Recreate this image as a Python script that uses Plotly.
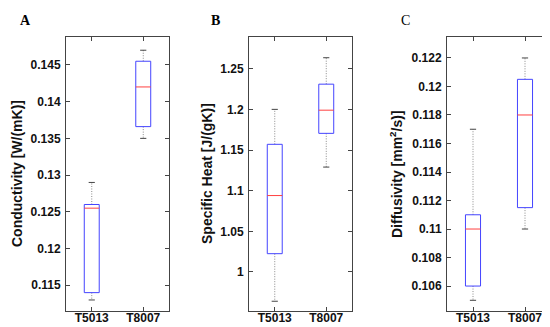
import plotly.graph_objects as go

groups = ["T5013", "T8007"]

# Panel A: Conductivity [W/(mK)]
cond_low = [0.1130, 0.1350]
cond_q1 = [0.1140, 0.1366]
cond_med = [0.1255, 0.1420]
cond_q3 = [0.1260, 0.1455]
cond_high = [0.1290, 0.1470]

# Panel B: Specific heat [J/(gK)]
heat_low = [0.964, 1.129]
heat_q1 = [1.0225, 1.1705]
heat_med = [1.094, 1.199]
heat_q3 = [1.157, 1.231]
heat_high = [1.200, 1.2635]

# Panel C: Diffusivity [mm2/s]
diff_low = [0.1050, 0.1100]
diff_q1 = [0.1060, 0.1115]
diff_med = [0.1100, 0.1180]
diff_q3 = [0.1110, 0.1205]
diff_high = [0.1170, 0.1220]

panels = [
    dict(low=cond_low, q1=cond_q1, med=cond_med, q3=cond_q3, high=cond_high,
         yrange=[0.1115, 0.1488], dtick=0.005,
         xdom=[58/550, 161/550], title="Conductivity [W/(mK)]", tx=9,
         letter="A", lx=17, lbold=True),
    dict(low=heat_low, q1=heat_q1, med=heat_med, q3=heat_q3, high=heat_high,
         yrange=[0.952, 1.289], dtick=0.05,
         xdom=[241/550, 344/550], title="Specific Heat [J/(gK)]", tx=199,
         letter="B", lx=207, lbold=True),
    dict(low=diff_low, q1=diff_q1, med=diff_med, q3=diff_q3, high=diff_high,
         yrange=[0.10425, 0.12347], dtick=0.002,
         xdom=[439/550, 543/550], title="Diffusivity [mm<sup>2</sup>/s)]", tx=388,
         letter="C", lx=397, lbold=False),
]

W, H = 550, 327
ydom = [1 - 303/H, 1 - 29/H]
BOX_HW = 0.145
CAP_HW = 0.06

fig = go.Figure()
annotations = []
for k, p in enumerate(panels):
    sfx = "" if k == 0 else str(k + 1)
    xa, ya = "x" + sfx, "y" + sfx
    for i in range(len(groups)):
        xc = i + 1
        # whiskers (dotted)
        fig.add_trace(go.Scatter(
            x=[xc, xc, None, xc, xc],
            y=[p["q3"][i], p["high"][i], None, p["q1"][i], p["low"][i]],
            mode="lines", line=dict(color="#8a8a8a", width=1, dash="1px,1.5px"),
            xaxis=xa, yaxis=ya, showlegend=False, hoverinfo="skip"))
        # caps
        fig.add_trace(go.Scatter(
            x=[xc - CAP_HW, xc + CAP_HW, None, xc - CAP_HW, xc + CAP_HW],
            y=[p["high"][i], p["high"][i], None, p["low"][i], p["low"][i]],
            mode="lines", line=dict(color="#444444", width=1),
            xaxis=xa, yaxis=ya, showlegend=False, hoverinfo="skip"))
        # box
        fig.add_trace(go.Scatter(
            x=[xc - BOX_HW, xc + BOX_HW, xc + BOX_HW, xc - BOX_HW, xc - BOX_HW],
            y=[p["q1"][i], p["q1"][i], p["q3"][i], p["q3"][i], p["q1"][i]],
            mode="lines", line=dict(color="#4444ff", width=1),
            xaxis=xa, yaxis=ya, showlegend=False, hoverinfo="skip"))
        # median
        fig.add_trace(go.Scatter(
            x=[xc - BOX_HW, xc + BOX_HW],
            y=[p["med"][i], p["med"][i]],
            mode="lines", line=dict(color="#ff4040", width=1),
            xaxis=xa, yaxis=ya, showlegend=False, hoverinfo="skip"))

    axcommon = dict(showline=True, linecolor="#444444", linewidth=1, mirror="ticks",
                    ticks="inside", ticklen=4, tickcolor="#444444", showgrid=False,
                    zeroline=False,
                    tickfont=dict(family="Liberation Sans", size=12, color="#111111", weight="bold"))
    fig.update_layout(**{
        "xaxis" + sfx: dict(domain=p["xdom"], range=[0.5, 2.5], tickvals=[1, 2],
                            ticktext=groups, anchor=ya, ticklabelstandoff=-4, **axcommon),
        "yaxis" + sfx: dict(domain=ydom, range=p["yrange"], dtick=p["dtick"],
                            anchor=xa, ticklabelstandoff=2, **axcommon),
    })
    annotations.append(dict(
        text=p["title"], x=p["tx"]/W, y=(1 - 166/H), xref="paper", yref="paper",
        textangle=-90, showarrow=False, xanchor="center", yanchor="middle",
        font=dict(family="Liberation Sans", size=14, color="#111111", weight="bold")))
    annotations.append(dict(
        text=p["letter"], x=p["lx"]/W, y=1 - 12.5/H, xref="paper", yref="paper",
        showarrow=False, xanchor="center", yanchor="middle",
        font=dict(family="Liberation Serif", size=14, color="#000000",
                  weight="bold" if p["lbold"] else "normal")))

fig.update_layout(width=W, height=H, margin=dict(l=0, r=0, t=0, b=0),
                  paper_bgcolor="white", plot_bgcolor="white",
                  annotations=annotations)
fig.write_html("out.html")
